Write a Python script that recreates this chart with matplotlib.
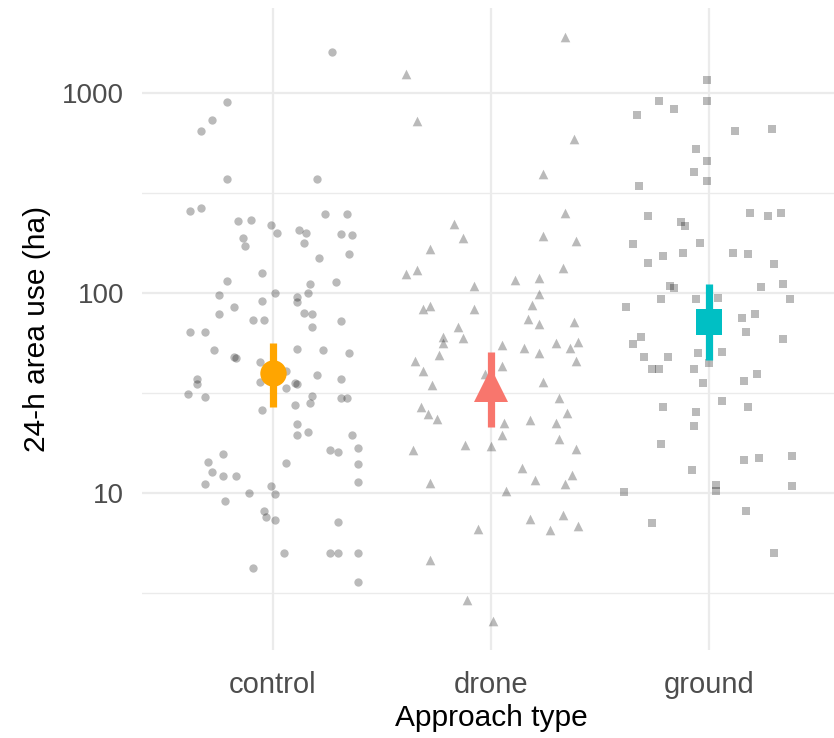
import numpy as np
import matplotlib
matplotlib.use("Agg")
import matplotlib.pyplot as plt

plt.rcParams['font.family'] = ['Liberation Sans', 'DejaVu Sans']

categories = ["control", "drone", "ground"]
axis_ticks = [10, 100, 1000]
tick_labels = ["10", "100", "1000"]

control_values = [1600, 902, 733, 646, 372, 372, 257, 266, 229, 232, 219, 200, 207, 200, 248, 248,
                  197, 195, 188, 172, 178, 157, 150, 126, 115, 114, 111, 97.7, 100, 100, 91.2, 95.5,
                  90.2, 85.1, 78.5, 73.3, 73.3, 79.4, 78.5, 72.4, 67.6, 63.8, 63.8, 51.9, 52.5, 51.9,
                  50.1, 47.9, 47.3, 45.2, 40.7, 38.9, 37.2, 37.2, 35.1, 35.9, 35.5, 35.1, 33.5, 31.3,
                  30.2, 30.5, 29.9, 29.9, 28.2, 27.5, 26.0, 22.1, 20.2, 19.5, 19.5, 16.4, 16.0, 16.8,
                  15.7, 14.3, 14.1, 14.0, 12.7, 12.2, 12.2, 11.4, 11.1, 10.8, 10.0, 9.9, 9.1, 8.1,
                  7.6, 7.3, 7.2, 5.0, 5.0, 5.0, 5.0, 4.2, 3.6]
control_jitter = [0.27, -0.21, -0.28, -0.33, -0.21, 0.20, -0.38, -0.33, -0.16, -0.10, -0.01, 0.02,
                  0.12, 0.15, 0.24, 0.34, 0.31, 0.36, -0.14, -0.13, 0.14, 0.35, 0.21, -0.05, -0.21,
                  0.29, 0.17, -0.25, 0.01, 0.16, -0.05, 0.11, 0.11, -0.18, -0.25, -0.09, -0.04, 0.14,
                  0.18, 0.31, 0.18, -0.38, -0.31, -0.27, 0.11, 0.23, 0.35, -0.18, -0.17, -0.06, 0.06,
                  0.20, 0.31, -0.35, -0.35, -0.06, 0.10, 0.11, 0.06, -0.39, -0.31, 0.18, 0.31, 0.34,
                  0.17, 0.10, -0.05, 0.11, 0.16, 0.11, 0.36, 0.26, 0.30, 0.39, -0.23, -0.30, 0.06,
                  0.39, -0.28, -0.23, -0.17, 0.39, -0.31, -0.01, -0.11, 0.01, -0.22, -0.04, -0.03,
                  0.01, 0.30, 0.05, 0.26, 0.30, 0.39, -0.09, 0.39]

drone_values = [1905, 1245, 724, 589, 394, 251, 221, 193, 188, 182, 166, 124, 130, 133, 116, 119,
                108, 98.9, 87.1, 86.1, 83.2, 83.2, 74.1, 70.0, 71.6, 67.6, 60.3, 59.6, 56.2, 55.0,
                53.1, 50.1, 56.2, 53.1, 56.9, 49.0, 45.7, 43.2, 45.7, 40.7, 39.4, 35.9, 34.7, 29.9,
                26.9, 24.8, 23.4, 25.1, 22.4, 23.2, 22.4, 19.5, 18.6, 17.4, 17.2, 16.6, 16.4, 13.3,
                11.6, 12.3, 11.1, 11.2, 10.2, 7.4, 7.8, 6.5, 6.8, 6.6, 4.6, 2.9, 2.3]
drone_jitter = [0.34, -0.39, -0.34, 0.38, 0.24, 0.34, -0.17, 0.24, -0.13, 0.39, -0.28, -0.39, -0.34,
                0.33, 0.11, 0.22, -0.08, 0.22, 0.19, -0.28, -0.31, -0.08, 0.17, 0.22, 0.38, -0.15,
                -0.22, -0.13, -0.22, 0.05, 0.15, 0.22, 0.30, 0.36, 0.40, -0.24, -0.35, 0.05, 0.39,
                -0.31, -0.03, 0.24, -0.27, 0.31, -0.32, -0.29, -0.25, 0.35, 0.06, 0.18, 0.30, 0.05,
                0.31, -0.12, 0.00, 0.39, -0.36, 0.14, 0.20, 0.37, 0.34, -0.28, 0.07, 0.18, 0.33,
                0.27, 0.40, -0.06, -0.28, -0.11, 0.01]

ground_values = [1161, 912, 912, 832, 776, 646, 661, 525, 457, 403, 363, 343, 243, 251, 243, 251,
                 226, 216, 176, 178, 153, 158, 158, 157, 141, 140, 108, 106, 107, 111, 93.3, 93.3,
                 94.4, 93.3, 85.1, 75.0, 78.5, 63.8, 58.9, 60.3, 55.6, 47.9, 47.9, 50.1, 50.7, 41.7,
                 41.7, 41.7, 44.7, 39.4, 36.3, 35.5, 28.8, 26.9, 26.9, 25.4, 21.6, 17.6, 14.6, 15.0,
                 15.3, 13.0, 11.0, 10.8, 10.1, 10.2, 8.1, 7.1, 5.0]
ground_jitter = [-0.01, -0.01, -0.23, -0.16, -0.33, 0.12, 0.29, -0.06, -0.01, -0.07, -0.01, -0.32,
                 -0.28, 0.19, 0.27, 0.33, -0.13, -0.11, -0.35, -0.04, -0.21, -0.12, 0.11, 0.18,
                 -0.28, 0.30, -0.18, -0.16, 0.24, 0.34, -0.22, -0.06, 0.04, 0.37, -0.38, 0.15, 0.21,
                 0.17, 0.34, -0.31, -0.35, -0.30, -0.19, -0.05, 0.06, -0.26, -0.23, -0.07, 0.00,
                 0.22, 0.16, -0.03, 0.06, -0.21, 0.18, -0.06, -0.07, -0.22, 0.16, 0.23, 0.38, -0.08,
                 0.03, 0.38, -0.39, 0.03, 0.17, -0.26, 0.30]

# model estimates with lower / upper interval
est = [39.8, 34.7, 71.6]
est_low = [26.9, 21.4, 46.2]
est_high = [56.2, 50.7, 111]
est_colors = ["#FFA500", "#F8766D", "#00BFC4"]
est_markers = ["o", "^", "s"]
pt_markers = ["o", "^", "s"]

W, H = 834, 738
fig = plt.figure(figsize=(W / 100, H / 100), dpi=100)
ax = fig.add_axes([142 / W, (H - 650) / H, (W - 142) / W, 642 / H])

ax.set_yscale("log")
ax.set_ylim(1.64, 2660)
ax.set_xlim(0.399, 3.573)

# grid
grid_c = "#EBEBEB"
for v in axis_ticks:
    ax.axhline(v, color=grid_c, lw=1.6, zorder=0)
for v in [10 ** 0.5, 10 ** 1.5, 10 ** 2.5]:
    ax.axhline(v, color=grid_c, lw=1.0, zorder=0)
for i in range(len(categories)):
    ax.axvline(i + 1, color=grid_c, lw=1.6, zorder=0)

groups = [(control_values, control_jitter), (drone_values, drone_jitter), (ground_values, ground_jitter)]
sizes = [36, 48, 30]
for i, (vals, jit) in enumerate(groups):
    xs = np.array(jit) + (i + 1)
    ax.scatter(xs, vals, s=sizes[i], marker=pt_markers[i], color="black", alpha=0.27,
               linewidths=0, zorder=2)

msizes = [19, 24, 19]
for i in range(3):
    ax.plot([i + 1, i + 1], [est_low[i], est_high[i]], color=est_colors[i], lw=5.2,
            solid_capstyle="butt", zorder=3)
    ax.plot([i + 1], [est[i]], marker=est_markers[i], markersize=msizes[i],
            color=est_colors[i], markeredgewidth=0, zorder=4)

for s in ax.spines.values():
    s.set_visible(False)
ax.set_yticks(axis_ticks)
ax.set_yticklabels(tick_labels)
ax.yaxis.set_minor_locator(matplotlib.ticker.NullLocator())
ax.set_xticks([1, 2, 3])
ax.set_xticklabels(categories)
ax.tick_params(axis="both", length=0, labelcolor="#4D4D4D")
ax.tick_params(axis="y", pad=13, labelsize=20)
ax.tick_params(axis="x", pad=15, labelsize=21)

fig.text(491 / W, 1 - 718 / H, "Approach type", ha="center", va="center", fontsize=21.5, color="black")
fig.text(37 / W, 1 - 329 / H, "24-h area use (ha)", ha="center", va="center", rotation=90,
         fontsize=21.5, color="black")

fig.savefig("out.png", dpi=100, facecolor="white")
